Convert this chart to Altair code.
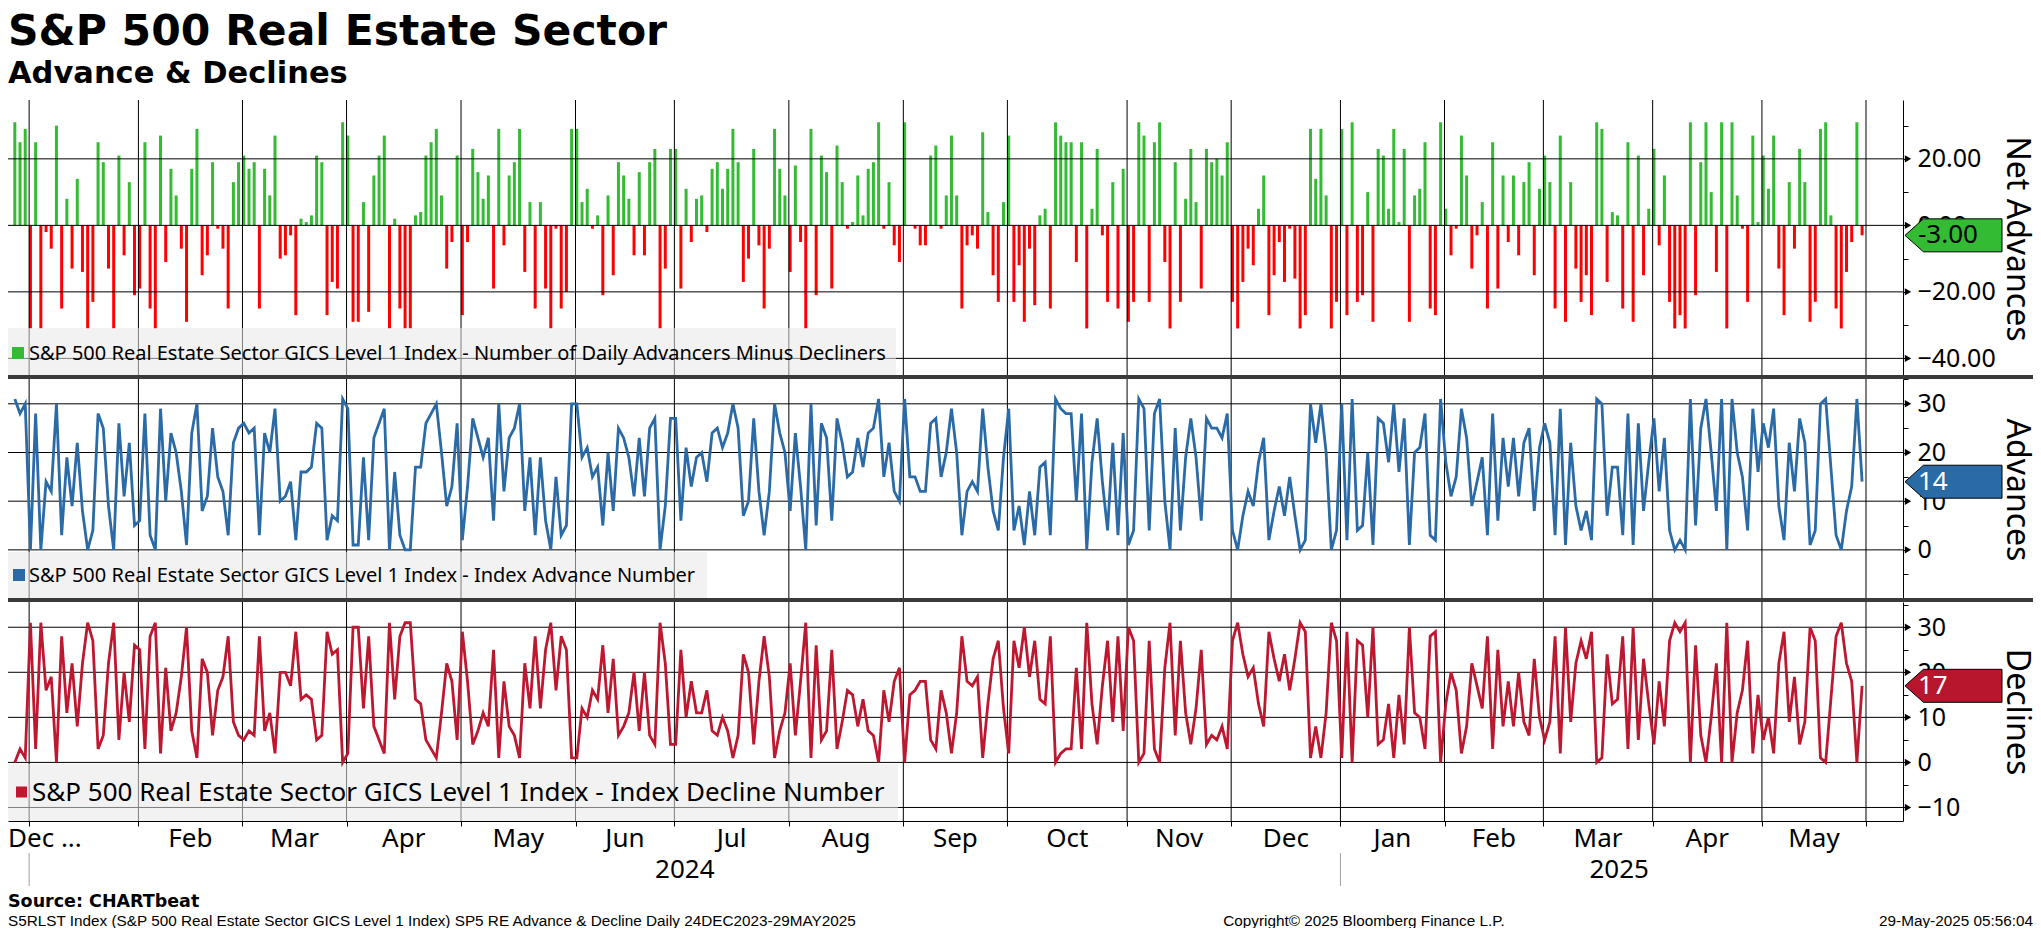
import altair as alt
import pandas as pd

# ---------------- data ----------------
adv = [31,28,30,0,28,0,14,12,30,3,
       19,9,22,8,0,4,28,25,9,0,
       26,11,22,5,6,28,3,0,29,10,
       24,20,12,1,24,30,8,11,25,15,
       12,3,22,25,26,24,25,3,24,20,
       29,10,11,14,2,16,16,17,26,25,
       2,7,6,31,29,1,1,19,2,23,
       26,29,0,16,3,0,0,17,17,26,
       28,30,20,9,13,26,2,13,27,23,
       19,23,6,30,12,23,25,30,8,19,
       3,19,6,0,15,3,5,30,30,19,
       21,15,17,5,20,8,25,23,19,11,
       23,11,25,27,0,9,27,27,6,21,
       13,19,20,14,24,25,21,24,30,25,
       7,10,27,12,3,12,30,24,20,8,
       24,13,0,30,5,26,23,6,27,22,
       15,16,23,17,24,25,31,15,22,12,
       10,31,15,15,12,12,26,27,15,20,
       29,20,3,12,14,12,29,17,8,4,
       19,29,4,9,1,12,3,17,18,3,
       31,29,28,28,10,28,0,18,27,14,
       4,22,3,24,1,4,31,29,4,28,
       31,10,0,25,4,19,27,19,6,27,
       25,25,23,28,4,0,7,12,9,18,
       23,2,8,13,7,15,7,0,2,30,
       22,30,20,0,4,30,2,31,4,5,
       20,1,27,26,18,30,16,27,1,20,
       21,28,3,2,31,18,11,15,29,23,
       9,14,19,3,28,6,23,13,23,11,
       22,25,8,21,26,22,3,29,1,22,
       9,4,8,2,31,30,7,17,17,3,
       28,1,26,8,18,27,12,23,4,0,
       2,0,31,5,25,31,20,8,31,0,
       31,20,15,4,29,16,26,21,29,9,
       2,22,12,27,22,1,4,30,31,17,
       3,0,8,13,31,14]

dec = [0,3,1,31,3,31,16,19,0,28,
       11,22,8,22,31,27,3,6,22,31,
       5,20,9,26,25,3,28,31,2,21,
       7,11,19,30,7,1,23,20,6,16,
       19,28,9,6,5,7,6,28,7,11,
       2,20,20,17,29,14,15,14,5,6,
       29,24,25,0,2,30,30,12,28,8,
       5,2,31,14,28,31,31,14,13,5,
       3,1,11,22,18,5,29,18,4,7,
       11,8,25,1,18,8,6,1,22,12,
       28,12,25,31,16,28,25,1,1,12,
       10,16,14,26,11,23,6,8,11,20,
       7,20,6,4,31,22,4,4,25,10,
       18,11,11,16,7,6,10,7,1,6,
       24,20,4,18,28,19,1,7,11,22,
       6,18,31,1,26,5,7,25,3,9,
       16,15,8,14,7,6,0,16,9,18,
       21,0,15,16,18,18,5,3,16,11,
       2,11,28,18,17,19,1,13,23,27,
       12,2,27,21,30,19,27,14,13,28,
       0,2,3,3,21,3,31,13,4,17,
       27,9,28,7,30,27,0,2,27,3,
       0,21,31,6,27,11,4,12,25,4,
       6,5,8,3,27,31,24,19,21,13,
       8,29,23,18,24,16,23,31,29,1,
       8,1,11,31,27,1,29,0,27,26,
       10,30,4,5,13,1,15,4,30,11,
       10,3,28,29,0,13,20,16,2,8,
       22,17,12,28,3,25,8,18,8,20,
       9,6,23,10,5,9,28,2,30,9,
       22,27,23,29,0,1,24,13,14,28,
       3,30,5,23,13,4,18,8,27,31,
       29,31,0,26,6,0,10,22,0,31,
       0,11,16,27,2,15,5,10,2,22,
       29,9,19,4,9,30,27,1,0,14,
       28,31,22,18,0,17]

# trading-day index of the first session of each month (Jan-2024 ... Jun-2025)
month_start_idx = [3, 24, 44, 64, 86, 108, 127, 149, 171, 191, 214, 234,
                   255, 275, 294, 315, 336, 356]
month_labels = ["", "Feb", "Mar", "Apr", "May", "Jun", "Jul", "Aug", "Sep",
                "Oct", "Nov", "Dec", "Jan", "Feb", "Mar", "Apr", "May"]
first_label = "Dec ..."
year_labels = ["2024", "2025"]
year_start_idx = [3, 255]

net_ticks = [30, 20, 10, 0, -10, -20, -30, -40]
net_major = [20, 0, -20, -40]
adv_ticks = [35, 30, 25, 20, 15, 10, 5, 0, -5, -10]
adv_major = [30, 20, 10, 0]
dec_ticks = [35, 30, 25, 20, 15, 10, 5, 0, -5, -10]
dec_major = [30, 20, 10, 0, -10]

title_text = "S&P 500 Real Estate Sector"
subtitle_text = "Advance & Declines"
legend_net = "S&P 500 Real Estate Sector GICS Level 1 Index - Number of Daily Advancers Minus Decliners"
legend_adv = "S&P 500 Real Estate Sector GICS Level 1 Index - Index Advance Number"
legend_dec = "S&P 500 Real Estate Sector GICS Level 1 Index - Index Decline Number"
source_text = "Source: CHARTbeat"
footer_left = "S5RLST Index (S&P 500 Real Estate Sector GICS Level 1 Index) SP5 RE Advance & Decline  Daily 24DEC2023-29MAY2025"
footer_mid = "Copyright\u00a9 2025 Bloomberg Finance L.P."
footer_right = "29-May-2025 05:56:04"

# ---------------- styling / layout ----------------
GREEN = "#33bb33"
RED = "#ff0000"
BLUE = "#2a6aa7"
CRIMSON = "#be1830"
FONT = "Noto Sans"
BOLD = "DejaVu Sans"
W, H = 1895, 721
GRID_OFF = -0.25
X_DOM = [-0.35, 361.9]

xscale = alt.Scale(domain=X_DOM, nice=False, zero=False)
net_scale = alt.Scale(domain=[-45.6, 37.7], range=[277, 0], nice=False, zero=False)
adv_scale = alt.Scale(domain=[-10.3, 35.1], range=[500, 279], nice=False, zero=False)
dec_scale = alt.Scale(domain=[-13.0, 35.6], range=[721, 502], nice=False, zero=False)

x_axis = alt.Axis(orient="bottom", values=[s + GRID_OFF for s in month_start_idx],
                  labels=False, grid=False, ticks=True, tickSize=5, tickColor="black",
                  domainColor="black", title=None, offset=0)


def yaxis(values, expr, title, ty):
    return alt.Axis(orient="right", values=values, grid=False, offset=0,
                    domainColor="black", domainWidth=1, tickColor="black", tickSize=5,
                    labelExpr=expr, labelFont=FONT, labelFontSize=25, labelColor="black",
                    labelPadding=9, labelAlign="left", labelBaseline="middle",
                    labelOverlap=False, labelFlush=False,
                    title=title, titleFont=FONT, titleFontSize=32, titleFontWeight="normal",
                    titleColor="black", titleAngle=90, titleX=113, titleY=ty,
                    titleAlign="center", titleBaseline="middle")


net_axis = yaxis(net_ticks, "datum.value % 20 === 0 ? format(datum.value, '.2f') : ''",
                 "Net Advances", 138.5)
adv_axis = yaxis(adv_ticks, "datum.value % 10 === 0 && datum.value >= 0 ? format(datum.value, 'd') : ''",
                 "Advances", 389.5)
dec_axis = yaxis(dec_ticks, "datum.value % 10 === 0 ? format(datum.value, 'd') : ''",
                 "Declines", 611.5)

# ---------------- tables ----------------
n = len(adv)
df = pd.DataFrame({"idx": list(range(n)), "adv": adv, "dec": dec})
df["net"] = df["adv"] - df["dec"]
df["col"] = [GREEN if v >= 0 else RED for v in df["net"]]

vgrid = pd.DataFrame({"idx": [s + GRID_OFF for s in month_start_idx]})
mlab = pd.DataFrame({
    "idx": [(month_start_idx[i] + month_start_idx[i + 1]) / 2 + GRID_OFF
            for i in range(len(month_labels))],
    "lab": month_labels})
ypos = [(year_start_idx[0] + year_start_idx[1]) / 2 + GRID_OFF,
        (year_start_idx[1] + GRID_OFF + X_DOM[1]) / 2]
ylab = pd.DataFrame({"idx": ypos, "lab": year_labels})
ysep = pd.DataFrame({"idx": [s + GRID_OFF for s in year_start_idx]})
one = pd.DataFrame({"k": [0]})

X = alt.X("idx:Q", scale=xscale, axis=x_axis)

layers = []

# bars
layers.append(alt.Chart(df).mark_bar(size=3).encode(
    x=X, y=alt.Y("net:Q", scale=net_scale, axis=net_axis), y2=alt.datum(0),
    color=alt.Color("col:N", scale=None)))


def hgrid(vals, scale):
    return alt.Chart(pd.DataFrame({"v": vals})).mark_rule(color="black", strokeWidth=1).encode(
        y=alt.Y("v:Q", scale=scale, axis=None), x=alt.value(0), x2=alt.value(W))


layers.append(hgrid(net_major, net_scale))
layers.append(hgrid(adv_major, adv_scale))
layers.append(hgrid(dec_major, dec_scale))

# vertical month grid
layers.append(alt.Chart(vgrid).mark_rule(color="black", strokeWidth=1).encode(
    x=X, y=alt.value(0), y2=alt.value(H)))

# legend boxes (semi transparent)
for x2, y1, y2 in [(888, 228, 275), (699, 452, 498), (890, 664, 721)]:
    layers.append(alt.Chart(one).mark_rect(color="#e8e8e8", opacity=0.55).encode(
        x=alt.value(0), x2=alt.value(x2), y=alt.value(y1), y2=alt.value(y2)))

# lines
layers.append(alt.Chart(df).mark_line(color=BLUE, strokeWidth=2.8).encode(
    x=X, y=alt.Y("adv:Q", scale=adv_scale, axis=adv_axis)))
layers.append(alt.Chart(df).mark_line(color=CRIMSON, strokeWidth=2.8).encode(
    x=X, y=alt.Y("dec:Q", scale=dec_scale, axis=dec_axis)))

# thick separators
for yv in [277, 500]:
    layers.append(alt.Chart(one).mark_rule(color="#3a3a3a", strokeWidth=4).encode(
        x=alt.value(0), x2=alt.value(2025), y=alt.value(yv)))


# triangles at major ticks
def tri(vals, scale):
    return alt.Chart(pd.DataFrame({"v": vals})).mark_point(
        shape="triangle-right", filled=True, size=55, color="black", opacity=1).encode(
        y=alt.Y("v:Q", scale=scale, axis=None), x=alt.value(W + 5))


layers.append(tri(net_major, net_scale))
layers.append(tri(adv_major, adv_scale))
layers.append(tri(dec_major, dec_scale))

# value flags
FLAG = "M -1 0 L -0.62 -0.34 L 1 -0.34 L 1 0.34 L -0.62 0.34 Z"
flags = [(int(df["net"].iloc[-1]), f"{df['net'].iloc[-1]:.2f}", net_scale, GREEN, "black"),
         (int(df["adv"].iloc[-1]), f"{df['adv'].iloc[-1]}", adv_scale, "#2a6aa5", "white"),
         (int(df["dec"].iloc[-1]), f"{df['dec'].iloc[-1]}", dec_scale, "#b8162c", "white")]
for v, lab, sc, fillc, tc in flags:
    fd = pd.DataFrame({"v": [v], "lab": [lab]})
    layers.append(alt.Chart(fd).mark_point(shape=FLAG, filled=True, size=9409, fill=fillc,
                                           stroke="black", strokeWidth=1, opacity=1,
                                           fillOpacity=1, strokeOpacity=1).encode(
        y=alt.Y("v:Q", scale=sc, axis=None), x=alt.value(W + 50.5)))
    layers.append(alt.Chart(fd).mark_text(align="left", baseline="middle", font=FONT,
                                          fontSize=26, color=tc).encode(
        y=alt.Y("v:Q", scale=sc, axis=None), x=alt.value(W + 15), text="lab:N"))

# legend squares and texts
for (sx, sy, ss, c, txt, tx, fs) in [(4, 253, 12, GREEN, legend_net, 21, 20),
                                     (5, 475, 12, BLUE, legend_adv, 21, 20),
                                     (8, 692, 11, CRIMSON, legend_dec, 24, 26)]:
    layers.append(alt.Chart(one).mark_rect(color=c).encode(
        x=alt.value(sx), x2=alt.value(sx + ss), y=alt.value(sy - ss / 2), y2=alt.value(sy + ss / 2)))
    layers.append(alt.Chart(one).mark_text(align="left", baseline="middle", font=FONT,
                                           fontSize=fs, color="black").encode(
        x=alt.value(tx), y=alt.value(sy + 1), text=alt.value(txt)))

# month / year labels
layers.append(alt.Chart(mlab).mark_text(align="center", baseline="middle", font=FONT,
                                        fontSize=26, color="black").encode(
    x=X, y=alt.value(739), text="lab:N"))
layers.append(alt.Chart(one).mark_text(align="left", baseline="middle", font=FONT,
                                       fontSize=26, color="black").encode(
    x=alt.value(0), y=alt.value(739), text=alt.value(first_label)))
layers.append(alt.Chart(ylab).mark_text(align="center", baseline="middle", font=FONT,
                                        fontSize=26, color="black").encode(
    x=X, y=alt.value(770), text="lab:N"))
layers.append(alt.Chart(ysep).mark_rule(color="#a0a0a0", strokeWidth=1).encode(
    x=X, y=alt.value(753), y2=alt.value(786)))

# titles and footer
layers.append(alt.Chart(one).mark_text(align="left", baseline="alphabetic", font=BOLD,
                                       fontWeight="bold", fontSize=42.5, color="black").encode(
    x=alt.value(0), y=alt.value(-55), text=alt.value(title_text)))
layers.append(alt.Chart(one).mark_text(align="left", baseline="alphabetic", font=BOLD,
                                       fontWeight="bold", fontSize=30.5, color="black").encode(
    x=alt.value(0), y=alt.value(-17), text=alt.value(subtitle_text)))
layers.append(alt.Chart(one).mark_text(align="left", baseline="middle", font=BOLD,
                                       fontWeight="bold", fontSize=17.5, color="black").encode(
    x=alt.value(0), y=alt.value(802), text=alt.value(source_text)))
for txt, xv, al in [(footer_left, 0, "left"), (footer_mid, 1356, "center"), (footer_right, 2025, "right")]:
    layers.append(alt.Chart(one).mark_text(align=al, baseline="alphabetic", font="Liberation Sans",
                                           fontSize=15.3, color="black").encode(
        x=alt.value(xv), y=alt.value(826), text=alt.value(txt)))

chart = alt.layer(*layers).resolve_scale(y="independent").properties(
    width=W, height=H,
    autosize=alt.AutoSizeParams(type="none"),
    padding={"left": 0, "top": 92, "right": 130, "bottom": 107},
    background="white",
).configure_view(stroke=None)

chart.save("out.html", embed_options={"renderer": "svg", "actions": False})
